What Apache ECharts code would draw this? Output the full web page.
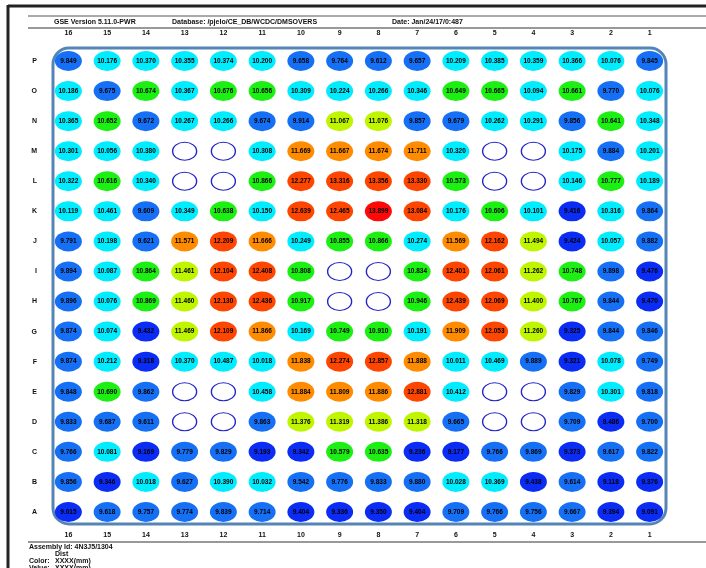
<!DOCTYPE html>
<html>
<head>
<meta charset="utf-8">
<script src="https://cdn.jsdelivr.net/npm/echarts@6/dist/echarts.min.js"></script>
<style>
  html, body { margin: 0; padding: 0; background: #fff; }
  #chart { width: 706px; height: 568px; }
</style>
</head>
<body>
<div id="chart"></div>
<script>
// column labels, left to right
const columns = ['16', '15', '14', '13', '12', '11', '10', '9', '8', '7', '6', '5', '4', '3', '2', '1'];
// row labels, bottom to top
const rows = ['A', 'B', 'C', 'D', 'E', 'F', 'G', 'H', 'I', 'J', 'K', 'L', 'M', 'N', 'O', 'P'];

// values per row, columns 16 -> 1, null = empty position
const rowP = [9.849, 10.176, 10.370, 10.355, 10.374, 10.200, 9.658, 9.764, 9.612, 9.657, 10.209, 10.385, 10.359, 10.366, 10.076, 9.845];
const rowO = [10.186, 9.675, 10.674, 10.367, 10.676, 10.656, 10.309, 10.224, 10.266, 10.346, 10.649, 10.665, 10.094, 10.661, 9.770, 10.076];
const rowN = [10.365, 10.652, 9.672, 10.267, 10.266, 9.674, 9.914, 11.067, 11.076, 9.857, 9.679, 10.262, 10.291, 9.856, 10.641, 10.348];
const rowM = [10.301, 10.056, 10.380, null, null, 10.308, 11.669, 11.667, 11.674, 11.711, 10.320, null, null, 10.175, 9.884, 10.201];
const rowL = [10.322, 10.616, 10.340, null, null, 10.866, 12.277, 13.316, 13.356, 13.330, 10.573, null, null, 10.146, 10.777, 10.189];
const rowK = [10.119, 10.461, 9.609, 10.349, 10.638, 10.150, 12.639, 12.465, 13.899, 13.084, 10.176, 10.606, 10.101, 9.416, 10.316, 9.864];
const rowJ = [9.791, 10.198, 9.621, 11.571, 12.209, 11.666, 10.249, 10.855, 10.866, 10.274, 11.569, 12.162, 11.494, 9.424, 10.057, 9.882];
const rowI = [9.894, 10.087, 10.864, 11.461, 12.104, 12.408, 10.808, null, null, 10.834, 12.401, 12.061, 11.262, 10.748, 9.898, 9.476];
const rowH = [9.896, 10.076, 10.869, 11.460, 12.130, 12.436, 10.917, null, null, 10.946, 12.439, 12.069, 11.400, 10.767, 9.844, 9.470];
const rowG = [9.874, 10.074, 9.432, 11.469, 12.109, 11.866, 10.169, 10.749, 10.910, 10.191, 11.909, 12.053, 11.260, 9.325, 9.844, 9.846];
const rowF = [9.874, 10.212, 9.318, 10.370, 10.487, 10.018, 11.838, 12.274, 12.857, 11.888, 10.011, 10.469, 9.889, 9.321, 10.078, 9.749];
const rowE = [9.848, 10.690, 9.862, null, null, 10.458, 11.884, 11.809, 11.886, 12.881, 10.412, null, null, 9.829, 10.301, 9.818];
const rowD = [9.833, 9.687, 9.611, null, null, 9.863, 11.376, 11.319, 11.386, 11.318, 9.665, null, null, 9.709, 9.486, 9.700];
const rowC = [9.766, 10.081, 9.169, 9.779, 9.829, 9.193, 9.342, 10.579, 10.635, 9.236, 9.177, 9.766, 9.869, 9.373, 9.617, 9.822];
const rowB = [9.856, 9.346, 10.018, 9.627, 10.390, 10.032, 9.542, 9.776, 9.833, 9.880, 10.028, 10.369, 9.438, 9.614, 9.118, 9.376];
const rowA = [9.015, 9.618, 9.757, 9.774, 9.839, 9.714, 9.404, 9.336, 9.350, 9.404, 9.709, 9.766, 9.756, 9.667, 9.394, 9.091];

const rowValues = [rowA, rowB, rowC, rowD, rowE, rowF, rowG, rowH, rowI, rowJ, rowK, rowL, rowM, rowN, rowO, rowP];

// 组装数据
const filled = [];
const empty = [];
rowValues.forEach((vals, r) => {
  vals.forEach((v, c) => {
    if (v === null) empty.push([c, r]);
    else filled.push([c, r, v]);
  });
});

const chart = echarts.init(document.getElementById('chart'));
const txt = { fontFamily: 'Liberation Sans', fontWeight: 'bold', fontSize: 7, fill: '#111' };
const axisLabelStyle = { color: '#111', fontFamily: 'Liberation Sans', fontWeight: 'bold', fontSize: 7 };

chart.setOption({
  animation: false,
  grid: { left: 49, right: 37, top: 46, bottom: 41 },
  xAxis: [
    {
      type: 'category', data: columns, position: 'top',
      axisLine: { show: false }, axisTick: { show: false }, splitLine: { show: false },
      axisLabel: Object.assign({ margin: 9 }, axisLabelStyle)
    },
    {
      type: 'category', data: columns, position: 'bottom',
      axisLine: { show: false }, axisTick: { show: false }, splitLine: { show: false },
      axisLabel: Object.assign({ margin: 5 }, axisLabelStyle)
    }
  ],
  yAxis: {
    type: 'category', data: rows,
    axisLine: { show: false }, axisTick: { show: false }, splitLine: { show: false },
    axisLabel: Object.assign({ margin: 12 }, axisLabelStyle)
  },
  visualMap: {
    type: 'piecewise', show: false, seriesIndex: 0, dimension: 2,
    pieces: [
      { lt: 9.5, color: '#0a2cf4' },
      { gte: 9.5, lt: 10.0, color: '#1670f6' },
      { gte: 10.0, lt: 10.5, color: '#00ecff' },
      { gte: 10.5, lt: 11.0, color: '#1cf012' },
      { gte: 11.0, lt: 11.5, color: '#c0f500' },
      { gte: 11.5, lt: 12.0, color: '#ff8c00' },
      { gte: 12.0, lt: 13.5, color: '#ff4600' },
      { gte: 13.5, color: '#ff0808' }
    ]
  },
  series: [
    {
      type: 'scatter',
      data: filled,
      symbol: 'circle',
      symbolSize: [27, 20],
      itemStyle: { opacity: 1 },
      label: {
        show: true,
        formatter: p => p.value[2].toFixed(3),
        color: '#000', fontFamily: 'Liberation Sans', fontWeight: 'bold', fontSize: 6.5
      }
    },
    {
      type: 'scatter',
      data: empty,
      symbol: 'circle',
      symbolSize: [24, 18],
      itemStyle: { color: '#fff', borderColor: '#2424c8', borderWidth: 1.2, opacity: 1 }
    }
  ],
  graphic: [
    // 外框线
    { type: 'line', shape: { x1: 8, y1: 6, x2: 706, y2: 6 }, style: { stroke: '#222', lineWidth: 3 } },
    { type: 'line', shape: { x1: 8, y1: 5, x2: 8, y2: 568 }, style: { stroke: '#222', lineWidth: 3 } },
    { type: 'line', shape: { x1: 28, y1: 16, x2: 706, y2: 16 }, style: { stroke: '#555', lineWidth: 1 } },
    { type: 'line', shape: { x1: 28, y1: 28, x2: 706, y2: 28 }, style: { stroke: '#999', lineWidth: 2 } },
    { type: 'line', shape: { x1: 28, y1: 542, x2: 706, y2: 542 }, style: { stroke: '#999', lineWidth: 2 } },
    // 圆角框
    { type: 'rect', shape: { x: 53, y: 48, width: 613, height: 476, r: 16 }, style: { fill: 'none', stroke: '#5585b5', lineWidth: 3 }, z: -1 },
    // 表头
    { type: 'text', x: 54, y: 19, style: Object.assign({ text: 'GSE Version 5.11.0-PWR' }, txt) },
    { type: 'text', x: 172, y: 19, style: Object.assign({ text: 'Database: /pjelo/CE_DB/WCDC/DMSOVERS' }, txt) },
    { type: 'text', x: 392, y: 19, style: Object.assign({ text: 'Date: Jan/24/17/0:487' }, txt) },
    // 页脚
    { type: 'text', x: 29, y: 544, style: Object.assign({ text: 'Assembly Id: 4N3J5/1304' }, txt) },
    { type: 'text', x: 55, y: 551, style: Object.assign({ text: 'Dist' }, txt) },
    { type: 'text', x: 29, y: 558, style: Object.assign({ text: 'Color:' }, txt) },
    { type: 'text', x: 55, y: 558, style: Object.assign({ text: 'XXXX(mm)' }, txt) },
    { type: 'text', x: 29, y: 565, style: Object.assign({ text: 'Value:' }, txt) },
    { type: 'text', x: 55, y: 565, style: Object.assign({ text: 'XXXX(mm)' }, txt) }
  ]
});
</script>
</body>
</html>
